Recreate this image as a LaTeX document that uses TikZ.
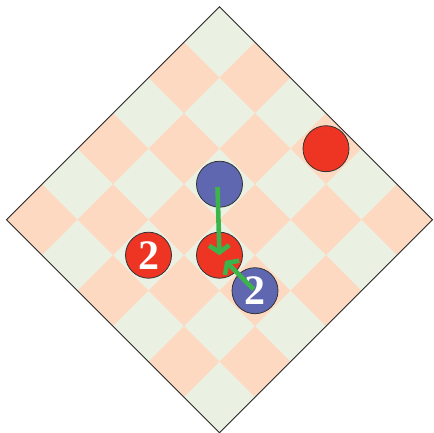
\documentclass[tikz,border=0pt]{standalone}
\usepackage{fontspec}
\setmainfont{Liberation Serif}
\usetikzlibrary{
	arrows.meta
}
\definecolor{cellgreen}{HTML}{EAF1E3}
\definecolor{cellpeach}{HTML}{FDD9C1}
\definecolor{redpiece}{HTML}{EE3524}
\definecolor{bluepiece}{HTML}{5E67B0}
\definecolor{movegreen}{HTML}{3CB44B}

\begin{document}
\begin{tikzpicture}[
		piece/.style={circle, draw=black!80, line width=0.8pt, minimum size=46pt, inner sep=0pt, text=white, font=\fontsize{42}{42}\selectfont\bfseries},
		move/.style={-{Straight Barb[length=7pt, width=20pt]}, line width=4.6pt, color=movegreen},
		boardline/.style={draw=black!85, line width=0.9pt}
		]
		
		\useasboundingbox (0,0) rectangle (433pt,-433pt);
		
		\begin{scope}[shift={(219.5pt,-6.7pt)}, x={(35.5pt,-35.5pt)}, y={(-35.5pt,-35.5pt)}]
			\fill[cellgreen] (0,0) -- (6,0) -- (6,6) -- (0,6) -- cycle;
			\foreach \i in {0,...,5}{
				\foreach \j in {0,...,5}{
					\pgfmathtruncatemacro{\cellodd}{mod(\i+\j,2)}
					\ifnum\cellodd=1
						\fill[cellpeach] (\i,\j) -- ++(1,0) -- ++(0,1) -- ++(-1,0) -- cycle;
					\fi
				}
			}
			\draw[boardline] (0,0) -- (6,0) -- (6,6) -- (0,6) -- cycle;
			
			\node[piece, fill=redpiece] (redfar) at (3.5,0.5) {};
			\node[piece, fill=bluepiece] (bluetop) at (2.5,2.5) {};
			\node[piece, fill=redpiece] (redtwo) at (2.5,4.5) {2};
			\node[piece, fill=redpiece] (redmid) at (3.5,3.5) {};
			\node[piece, fill=bluepiece] (bluetwo) at (4.5,3.5) {2};
		\end{scope}
		
		\draw[move] ([xshift=-2pt, yshift=-3pt]bluetop.center) -- (redmid.center);
		\draw[move, shorten <=2pt, shorten >=8pt] (bluetwo.center) -- (redmid.center);
		
	\end{tikzpicture}
\end{document}
